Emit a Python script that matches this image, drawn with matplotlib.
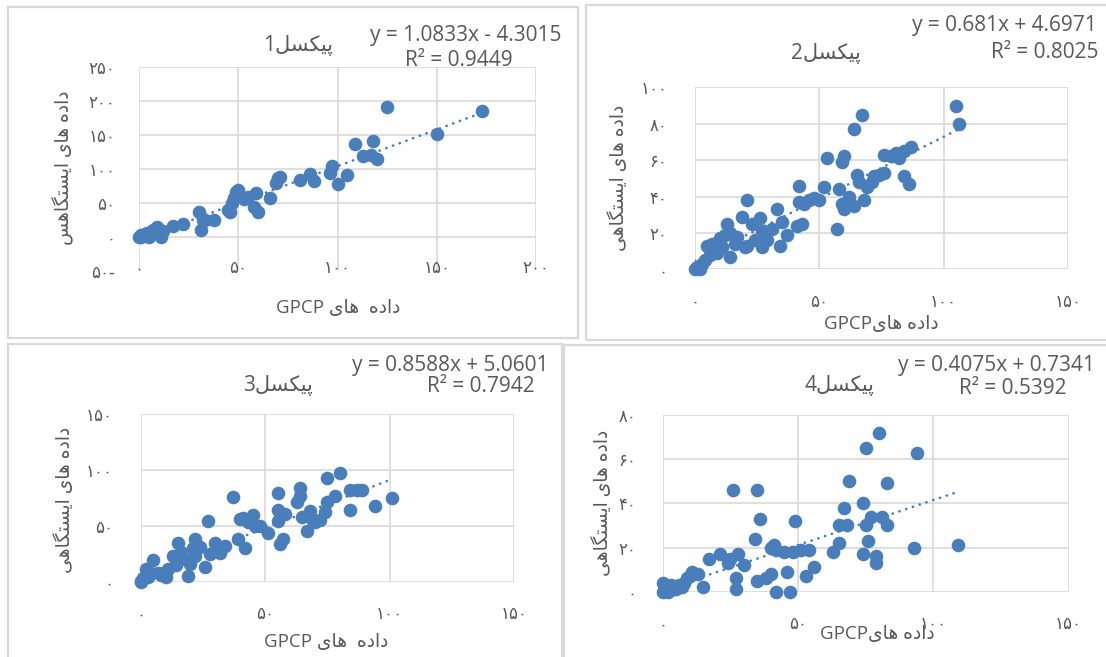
import matplotlib
matplotlib.use('Agg')
import matplotlib.pyplot as plt
from matplotlib.patches import Rectangle

# station vs GPCP precipitation, four pixels
p1_x = [0, 1, 1, 3, 4, 5, 6, 7, 9, 10, 11, 12, 17, 22, 30, 31, 32, 33, 38, 45, 46, 47, 48, 49, 50,
        53, 55, 58, 59, 60, 66, 69, 70, 71, 81, 86, 88, 96, 97, 100, 105, 109, 113, 117, 118, 120,
        125, 150, 173]
p1_y = [0, 0, 2, 4, 5, 0, 6, 10, 14, 5, 0, 9, 16, 19, 36, 10, 24, 25, 24, 39, 37, 50, 57, 66, 69,
        55, 58, 44, 64, 37, 57, 79, 86, 88, 84, 92, 82, 94, 104, 77, 91, 137, 119, 121, 141, 114,
        192, 152, 186]

p2_x = [0, 1, 2, 2, 3, 4, 5, 6, 7, 8, 9, 10, 11, 12, 13, 14, 14, 16, 17, 19, 20, 21, 21, 23, 24,
        26, 27, 27, 29, 31, 33, 34, 35, 37, 41, 42, 42, 43, 44, 46, 48, 50, 52, 53, 57, 58, 59, 59,
        60, 60, 62, 64, 64, 65, 66, 67, 68, 69, 71, 72, 74, 76, 76, 79, 81, 82, 84, 84, 86, 87,
        105, 106]
p2_y = [0, 1, 2, 0, 3, 5, 13, 8, 14, 12, 9, 17, 12, 19, 25, 7, 20, 14, 18, 29, 12, 38, 13, 25, 16,
        28, 21, 12, 16, 22, 33, 13, 26, 19, 24, 46, 37, 25, 36, 38, 39, 38, 45, 61, 22, 44, 36, 59,
        33, 62, 40, 35, 77, 52, 48, 85, 38, 45, 48, 51, 52, 53, 63, 62, 64, 61, 65, 51, 47, 67,
        90, 80]

p3_x = [0, 0, 1, 2, 3, 4, 5, 7, 8, 10, 11, 13, 14, 15, 16, 18, 19, 20, 21, 22, 22, 24, 26, 27, 28,
        30, 32, 34, 37, 39, 40, 41, 42, 43, 45, 46, 48, 51, 55, 55, 55, 56, 57, 58, 63, 64, 64, 65,
        67, 68, 69, 70, 72, 74, 75, 75, 78, 80, 84, 84, 87, 89, 94, 101]
p3_y = [0, 1, 3, 11, 4, 8, 19, 8, 6, 4, 11, 23, 15, 35, 27, 20, 5, 16, 30, 38, 23, 31, 13, 54, 25,
        35, 26, 32, 76, 38, 56, 57, 30, 53, 60, 50, 50, 44, 79, 64, 54, 34, 38, 61, 71, 77, 84, 58,
        45, 63, 56, 53, 55, 62, 93, 71, 77, 97, 64, 82, 82, 82, 68, 75]

p4_x = [0, 0, 1, 2, 3, 4, 5, 6, 7, 8, 9, 10, 11, 13, 15, 17, 21, 24, 25, 26, 27, 27, 28, 30, 34,
        35, 35, 36, 38, 40, 40, 41, 42, 42, 45, 46, 47, 48, 49, 51, 53, 54, 56, 63, 65, 65, 67, 68,
        69, 74, 74, 75, 75, 76, 77, 79, 79, 80, 81, 83, 83, 94, 93, 109]
p4_y = [0, 4, 1, 0, 3, 1, 1, 3, 2, 4, 6, 7, 9, 8, 2, 15, 17, 13, 15, 46, 6, 1, 17, 12, 24,
        5, 46, 33, 6, 8, 20, 21, 0, 19, 18, 9, 0, 18, 32, 19, 7, 19, 11, 18, 22, 30, 38, 30,
        50, 17, 40, 65, 30, 23, 34, 16, 13, 72, 34, 30, 49, 63, 20, 21]

slopes = [1.0833, 0.681, 0.8588, 0.4075]
intercepts = [-4.3015, 4.6971, 5.0601, 0.7341]
r2_vals = [0.9449, 0.8025, 0.7942, 0.5392]

x_ticks = [[0, 50, 100, 150, 200], [0, 50, 100, 150], [0, 50, 100, 150], [0, 50, 100, 150]]
y_ticks = [[-50, 0, 50, 100, 150, 200, 250], [0, 20, 40, 60, 80, 100],
           [0, 50, 100, 150], [0, 20, 40, 60, 80]]

# persian words, already joined and in visual order
DADE = '\uFEE9\uFEA9\uFE8D\uFEA9'
HAY = '\uFBFC\uFE8E\uFEEB'
ISTGAHI = '\uFBFD\uFEEB\uFE8E\uFB95\uFE98\uFEB4\uFBFE\uFE8D'
ISTGAHS = '\uFEB2\uFEEB\uFE8E\uFB95\uFE98\uFEB4\uFBFE\uFE8D'
PIXEL = '\uFEDE\uFEB4\uFB91\uFBFF\uFB58'

titles = ['1' + PIXEL, '2' + PIXEL, '3' + PIXEL, '4' + PIXEL]
xlabels = ['GPCP ' + HAY + '  ' + DADE, 'GPCP' + HAY + ' ' + DADE,
           'GPCP ' + HAY + '  ' + DADE, 'GPCP' + HAY + ' ' + DADE]
ylabels = [ISTGAHS + ' ' + HAY + ' ' + DADE] + [ISTGAHI + ' ' + HAY + ' ' + DADE] * 3

FA = str.maketrans('0123456789', '۰۱۲۳۴۵۶۷۸۹')


def fa(v):
    s = str(abs(v)).translate(FA)
    return s + '-' if v < 0 else s


W, H = 1106, 657
BLUE = '#4A7EBB'
GREY = '#595959'
GRID = '#d9d9d9'
FONT = ['Open Sans', 'DejaVu Sans']

# pixel layout: border, plot area, title, equation, r2, xlabel, ylabel, ytick pad, xtick pad
layout = [
    dict(border=(8, 7, 578, 338), ax=(139, 67.3, 536, 270.5), title=(298, 45), eq=(370, 36),
         r2=(405, 60), xl=(338, 308), yl=(63, 168), ypad=17, xpad=-8),
    dict(border=(586, 5, 1112, 340), ax=(695, 87.3, 1068, 269.3), title=(826, 54), eq=(912, 25),
         r2=(991, 53), xl=(881, 324), yl=(618, 178), ypad=20, xpad=17),
    dict(border=(8, 344, 562, 665), ax=(140.7, 414, 514, 581.7), title=(278, 385), eq=(352, 365),
         r2=(427, 387), xl=(326, 642), yl=(64, 500), ypad=20, xpad=17),
    dict(border=(564, 345, 1112, 665), ax=(662.7, 415, 1068.5, 591.7), title=(839, 385),
         eq=(898, 365), r2=(959, 388), xl=(877, 634), yl=(602, 503), ypad=19, xpad=17),
]

xs = [p1_x, p2_x, p3_x, p4_x]
ys = [p1_y, p2_y, p3_y, p4_y]

fig = plt.figure(figsize=(W / 100, H / 100), dpi=100)


def ftxt(px, py, s, **kw):
    fig.text(px / W, 1 - py / H, s, color=GREY, family=FONT, **kw)


for i, lay in enumerate(layout):
    l, t, r, b = lay['border']
    fig.add_artist(Rectangle((l / W, 1 - b / H), (r - l) / W, (b - t) / H,
                             transform=fig.transFigure, fill=False, ec=GRID, lw=1.6))

    l, t, r, b = lay['ax']
    ax = fig.add_axes([l / W, 1 - b / H, (r - l) / W, (b - t) / H])
    ax.set_xlim(x_ticks[i][0], x_ticks[i][-1])
    ax.set_ylim(y_ticks[i][0], y_ticks[i][-1])
    ax.set_xticks(x_ticks[i], [fa(v) for v in x_ticks[i]])
    ax.set_yticks(y_ticks[i], [fa(v) for v in y_ticks[i]])
    ax.tick_params(length=0, labelsize=12, labelcolor=GREY)
    ax.tick_params(axis='y', pad=lay['ypad'])
    ax.tick_params(axis='x', pad=lay['xpad'])
    ax.grid(True, color=GRID, lw=1.2)
    ax.set_axisbelow(True)
    for sp in ax.spines.values():
        sp.set_visible(False)
    if y_ticks[i][0] < 0:
        ax.get_ygridlines()[0].set_visible(False)

    ax.scatter(xs[i], ys[i], s=96, color=BLUE, lw=0, zorder=3, clip_on=False)
    x0, x1 = min(xs[i]), max(xs[i])
    ax.plot([x0, x1], [slopes[i] * x0 + intercepts[i], slopes[i] * x1 + intercepts[i]],
            color=BLUE, lw=1.9, ls=(0, (0.1, 2.6)), dash_capstyle='round', zorder=4)

    sign = '-' if intercepts[i] < 0 else '+'
    ftxt(*lay['eq'], f'y = {slopes[i]}x {sign} {abs(intercepts[i])}', fontsize=15,
         ha='left', va='center')
    ftxt(*lay['r2'], f'R² = {r2_vals[i]}', fontsize=15, ha='left', va='center')
    ftxt(*lay['title'], titles[i], fontsize=15, ha='center', va='center')
    ftxt(*lay['xl'], xlabels[i], fontsize=13.5, ha='center', va='center')
    ftxt(*lay['yl'], ylabels[i], fontsize=13.5, ha='center', va='center', rotation=90)

fig.savefig('out.png', dpi=100)
